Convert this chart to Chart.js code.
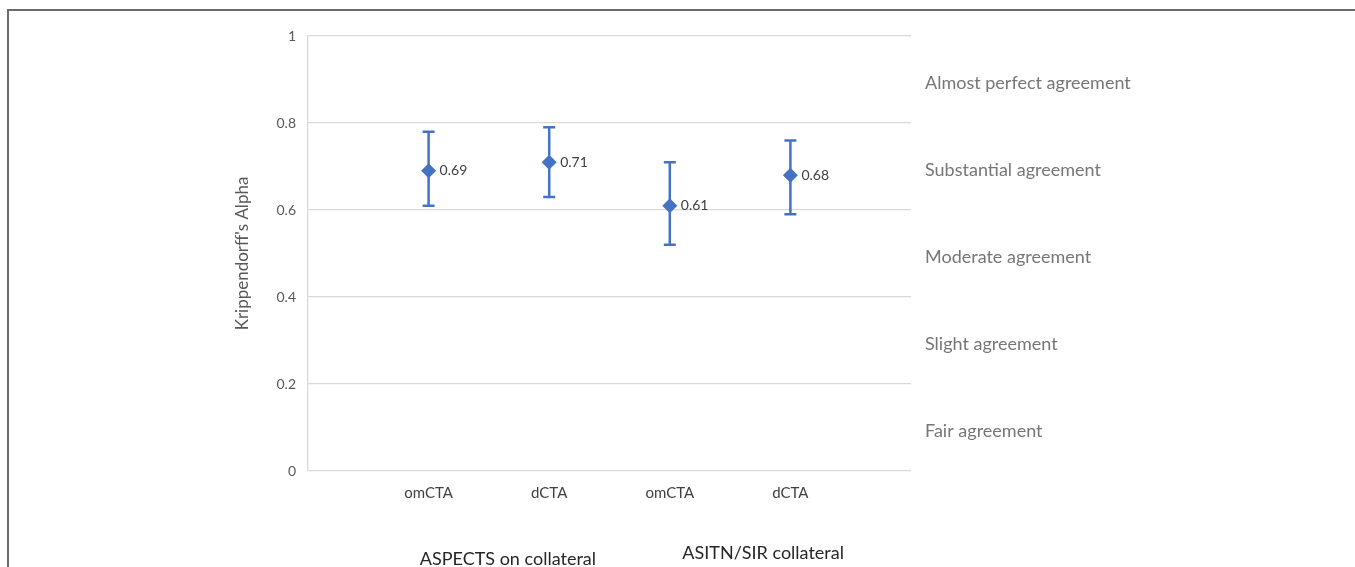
<!DOCTYPE html>
<html>
<head>
<meta charset="utf-8">
<script src="https://cdn.jsdelivr.net/npm/chart.js@4"></script>
<style>
  html, body { margin: 0; padding: 0; background: #fff; }
  #wrap { position: relative; width: 1355px; height: 567px; overflow: hidden; }
  #frame { position: absolute; left: 7px; top: 9px; right: -10px; bottom: -10px;
           border-top: 2px solid #6b6b6b; border-left: 2px solid #6b6b6b; pointer-events: none; }
  canvas { position: absolute; left: 0; top: 0; }
</style>
</head>
<body>
<div id="wrap">
  <canvas id="c" width="1355" height="567"></canvas>
  <div id="frame"></div>
</div>
<script>
// ---- data ----
const categories = ['', 'omCTA', 'dCTA', 'omCTA', 'dCTA', ''];
const alphaValues = [null, 0.69, 0.71, 0.61, 0.68, null];
const lowerCI = [null, 0.61, 0.63, 0.52, 0.59, null];
const upperCI = [null, 0.78, 0.79, 0.71, 0.76, null];
const yTicks = [0, 0.2, 0.4, 0.6, 0.8, 1];
const agreementBands = [
  { label: 'Almost perfect agreement', mid: 0.9 },
  { label: 'Substantial agreement', mid: 0.7 },
  { label: 'Moderate agreement', mid: 0.5 },
  { label: 'Slight agreement', mid: 0.3 },
  { label: 'Fair agreement', mid: 0.1 }
];
const groupLabels = ['ASPECTS on collateral', 'ASITN/SIR collateral'];
const yTitle = "Krippendorff's Alpha";

const BLUE = '#4472C4';
const FONT = 'Lato, "Open Sans", sans-serif';

const errorBarPlugin = {
  id: 'errorBars',
  afterDatasetsDraw(chart) {
    const ctx = chart.ctx, x = chart.scales.x, y = chart.scales.y;
    ctx.save();
    ctx.strokeStyle = BLUE;
    ctx.lineWidth = 2.5;
    for (let i = 0; i < alphaValues.length; i++) {
      if (alphaValues[i] == null) continue;
      const px = x.getPixelForValue(i);
      const yl = y.getPixelForValue(lowerCI[i]);
      const yh = y.getPixelForValue(upperCI[i]);
      ctx.beginPath();
      ctx.moveTo(px, yl); ctx.lineTo(px, yh);
      ctx.moveTo(px - 6, yl); ctx.lineTo(px + 6, yl);
      ctx.moveTo(px - 6, yh); ctx.lineTo(px + 6, yh);
      ctx.stroke();
    }
    ctx.restore();
  },
  afterDraw(chart) {
    const ctx = chart.ctx, x = chart.scales.x, y = chart.scales.y, ca = chart.chartArea;
    ctx.save();
    // data labels
    ctx.font = '14px ' + FONT;
    ctx.fillStyle = '#404040';
    ctx.textAlign = 'left';
    ctx.textBaseline = 'middle';
    for (let i = 0; i < alphaValues.length; i++) {
      if (alphaValues[i] == null) continue;
      ctx.fillText(alphaValues[i].toFixed(2), x.getPixelForValue(i) + 11, y.getPixelForValue(alphaValues[i]));
    }
    // agreement labels
    ctx.font = '18px ' + FONT;
    ctx.fillStyle = '#767676';
    agreementBands.forEach(b => {
      ctx.fillText(b.label, ca.right + 14, y.getPixelForValue(b.mid) + 4);
    });
    // group labels
    ctx.font = '18px ' + FONT;
    ctx.fillStyle = '#262626';
    ctx.textAlign = 'center';
    ctx.fillText(groupLabels[0], (x.getPixelForValue(1) + x.getPixelForValue(2)) / 2 + 19, ca.bottom + 88);
    ctx.fillText(groupLabels[1], (x.getPixelForValue(3) + x.getPixelForValue(4)) / 2 + 33, ca.bottom + 82);
    ctx.restore();
  }
};

new Chart(document.getElementById('c'), {
  type: 'line',
  data: {
    labels: categories,
    datasets: [{
      data: alphaValues,
      showLine: false,
      pointStyle: 'rectRot',
      pointRadius: 7.5,
      pointHoverRadius: 7.5,
      backgroundColor: BLUE,
      borderColor: BLUE,
      borderWidth: 0
    }]
  },
  options: {
    responsive: false,
    animation: false,
    devicePixelRatio: 1,
    layout: { padding: { left: 230, right: 444, top: 36, bottom: 0 } },
    plugins: { legend: { display: false }, tooltip: { enabled: false } },
    scales: {
      x: {
        type: 'category',
        offset: false,
        grid: { display: false, drawTicks: false },
        border: { display: false },
        ticks: { padding: 13, color: '#404040', font: { family: FONT, size: 15 }, autoSkip: false, maxRotation: 0 },
        afterFit(s) { s.height = 96; }
      },
      y: {
        min: 0, max: 1,
        afterBuildTicks(s) { s.ticks = yTicks.map(v => ({ value: v })); },
        grid: { color: '#d9d9d9', lineWidth: 1.3, drawTicks: false },
        border: { display: true, color: '#d9d9d9', width: 1.3 },
        ticks: { padding: 12, color: '#595959', font: { family: FONT, size: 14 },
                 callback: v => String(v) },
        title: { display: true, text: yTitle, color: '#595959', font: { family: FONT, size: 17 }, padding: { top: 2, bottom: 0 } },
        afterFit(s) { s.width = 78; }
      }
    }
  },
  plugins: [errorBarPlugin]
});
</script>
</body>
</html>
